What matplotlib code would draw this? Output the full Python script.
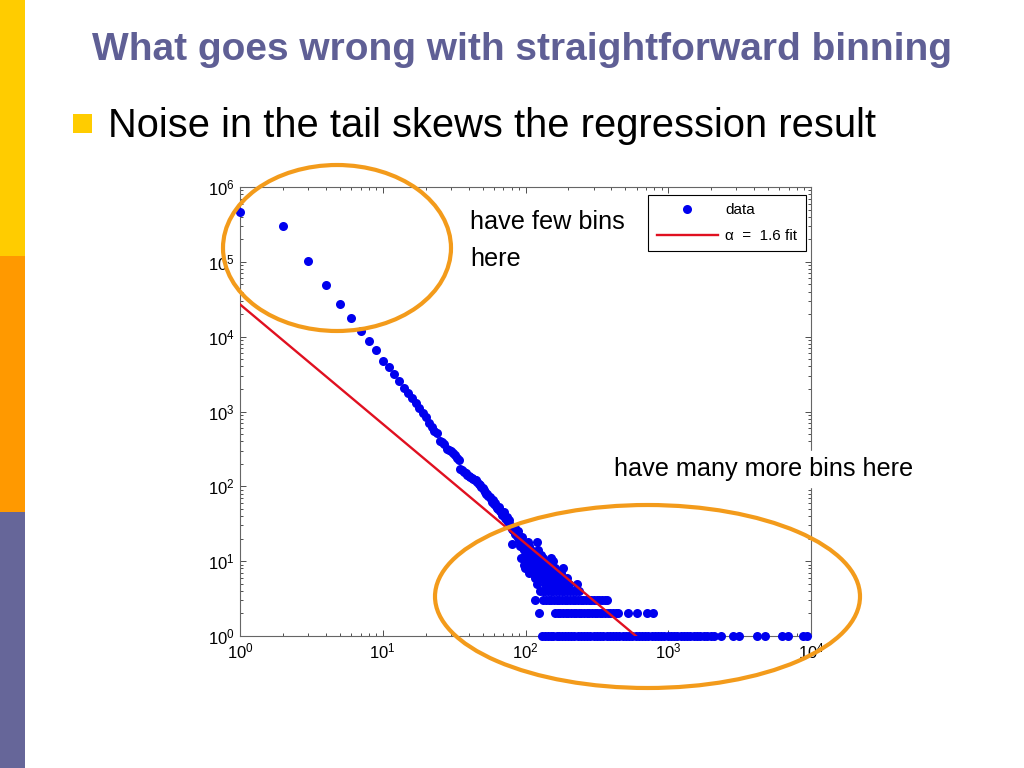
import matplotlib.pyplot as plt
from matplotlib.patches import Ellipse, Rectangle
from matplotlib.ticker import LogLocator, NullFormatter

plt.rcParams['font.family'] = ['Liberation Sans', 'DejaVu Sans']
plt.rcParams['mathtext.fontset'] = 'custom'
plt.rcParams['mathtext.rm'] = 'Liberation Sans'
plt.rcParams['mathtext.it'] = 'Liberation Sans:italic'

# main part of the histogram: value -> frequency
main_x = list(range(1, 101))
main_y = [460000, 300000, 103000, 49000, 27000, 18000, 11900, 8700, 6600, 4800,
          3970, 3140, 2580, 2080, 1750, 1500, 1290, 1110, 964, 836,
          695, 615, 554, 512, 400, 395, 370, 320, 305, 300,
          275, 262, 240, 225, 172, 165, 155, 149, 140, 138,
          135, 130, 125, 123, 122, 115, 108, 104, 98, 95,
          88, 85, 80, 78, 74, 72, 68, 62, 65, 58,
          59, 55, 52, 50, 53, 47, 45, 44, 42, 44,
          46, 38, 37, 39, 34, 33, 35, 30, 29, 27,
          17, 26, 25, 28, 23, 24, 22, 21, 25, 19,
          16, 20, 11, 17, 21, 15, 9, 14, 8, 13]

# noisy tail: frequency level -> values seen with that frequency
tail_counts = [1, 2, 3, 4, 5, 6, 7, 8, 9, 10, 11, 12, 13, 14, 16, 18]
tail_x = [
    [131, 137, 144, 150, 157, 165, 172, 180, 190, 200, 210, 220, 232, 245, 258,
     270, 285, 300, 315, 330, 350, 370, 390, 410, 430, 455, 480, 505, 530, 560,
     590, 620, 655, 690, 725, 765, 805, 850, 895, 940, 990, 1045, 1100, 1160,
     1220, 1290, 1360, 1430, 1510, 1590, 1680, 1770, 1870, 1990, 2100, 2350,
     2850, 3150, 4200, 4800, 6300, 6900, 8800, 9400],
    [124, 161, 168, 175, 183, 191, 200, 208, 217, 226, 236, 246, 257, 268, 280,
     292, 305, 318, 332, 346, 361, 377, 393, 410, 428, 445, 523, 604, 710, 782],
    [117, 133, 139, 145, 151, 158, 165, 172, 180, 188, 196, 205, 214, 223, 233,
     243, 254, 265, 277, 289, 302, 315, 329, 343, 358, 375],
    [126, 132, 138, 144, 150, 157, 164, 171, 179, 187, 196, 205, 215, 226, 238],
    [120, 137, 143, 149, 156, 163, 170, 178, 186, 194, 202, 230],
    [116, 122, 128, 140, 148, 155, 163, 172, 180, 195],
    [105, 112, 119, 131, 140, 152, 165, 178],
    [103, 110, 118, 127, 137, 150, 162, 183],
    [101, 108, 115, 124, 134, 146],
    [102, 109, 117, 126, 140, 156],
    [104, 113, 121, 133, 150],
    [101, 107, 115, 128],
    [103, 111],
    [102, 109, 122],
    [106],
    [104, 120],
]

# least squares fit line (alpha = 1.6)
fit_x = [1, 594]
fit_y = [27000, 1]

data_x = list(main_x)
data_y = list(main_y)
for c, xs in zip(tail_counts, tail_x):
    data_x += xs
    data_y += [c] * len(xs)

fig = plt.figure(figsize=(10.24, 7.68), dpi=100)

# slide decoration
fig.add_artist(Rectangle((0, 512 / 768), 25 / 1024, 256 / 768, transform=fig.transFigure,
                         color='#FFCC00', lw=0))
fig.add_artist(Rectangle((0, 256 / 768), 25 / 1024, 256 / 768, transform=fig.transFigure,
                         color='#FF9900', lw=0))
fig.add_artist(Rectangle((0, 0), 25 / 1024, 256 / 768, transform=fig.transFigure,
                         color='#666699', lw=0))
fig.text(522 / 1024, 1 - 50 / 768, 'What goes wrong with straightforward binning',
         ha='center', va='center', fontsize=28, fontweight='bold', color='#5F5F95')
fig.add_artist(Rectangle((73 / 1024, 1 - 133 / 768), 19 / 1024, 19 / 768,
                         transform=fig.transFigure, color='#FFCC00', lw=0))
fig.text(108 / 1024, 1 - 126 / 768, 'Noise in the tail skews the regression result',
         ha='left', va='center', fontsize=28.7, color='black')

ax = fig.add_axes([240 / 1024, 132 / 768, 571 / 1024, 449 / 768])
ax.plot(data_x, data_y, 'o', color='#0000EE', markersize=6.5, markeredgewidth=0,
        label='data', clip_on=False, zorder=3)
ax.plot(fit_x, fit_y, '-', color='#E01020', lw=1.7, label='α  =  1.6 fit', zorder=4)
ax.set_xscale('log')
ax.set_yscale('log')
ax.set_xlim(1, 1e4)
ax.set_ylim(1, 1e6)
ax.xaxis.set_major_locator(LogLocator(base=10, numticks=10))
ax.yaxis.set_major_locator(LogLocator(base=10, numticks=10))
ax.xaxis.set_minor_locator(LogLocator(base=10, subs=range(2, 10), numticks=20))
ax.yaxis.set_minor_locator(LogLocator(base=10, subs=range(2, 10), numticks=20))
ax.xaxis.set_minor_formatter(NullFormatter())
ax.yaxis.set_minor_formatter(NullFormatter())
ax.tick_params(which='both', direction='in', top=True, right=True, color='0.3',
               labelsize=12, width=0.7)
ax.tick_params(which='major', length=4, pad=4)
ax.tick_params(which='minor', length=2.5)
for s in ax.spines.values():
    s.set_color('0.4')
    s.set_linewidth(0.8)

leg = ax.legend(loc='upper right', bbox_to_anchor=(0.991, 0.982), fontsize=11,
                frameon=True, fancybox=False, edgecolor='black', framealpha=1,
                handlelength=4.0, handletextpad=0.5, borderaxespad=0,
                borderpad=0.55, labelspacing=0.75)
leg.get_frame().set_linewidth(0.8)

# annotations
fig.add_artist(Ellipse((337 / 1024, 1 - 248 / 768), 228 / 1024, 166 / 768,
                       transform=fig.transFigure, fill=False, ec='#F39B1B', lw=3))
fig.add_artist(Ellipse((647.5 / 1024, 1 - 596.5 / 768), 425 / 1024, 183 / 768,
                       transform=fig.transFigure, fill=False, ec='#F39B1B', lw=3))
fig.text(470 / 1024, 1 - 222 / 768, 'have few bins', fontsize=18.2, va='center', ha='left')
fig.text(470 / 1024, 1 - 259 / 768, 'here', fontsize=18.2, va='center', ha='left')
fig.text(614 / 1024, 1 - 469 / 768, 'have many more bins here', fontsize=18.2,
         va='center', ha='left', backgroundcolor='white')

fig.savefig('out.png', dpi=100)
